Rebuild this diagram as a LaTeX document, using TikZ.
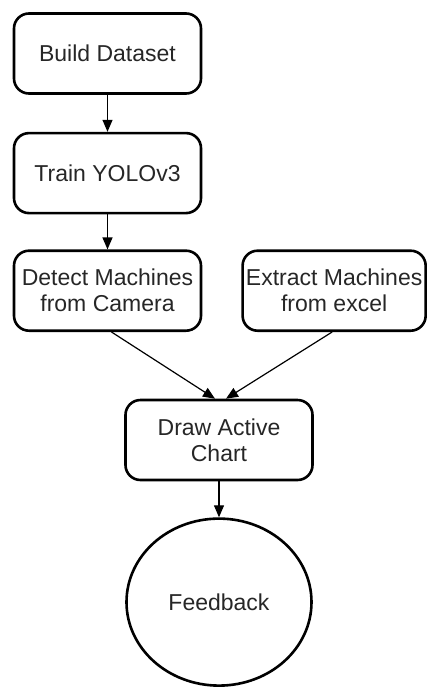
\documentclass[tikz,border=0pt]{standalone}
\usepackage{fontspec}
\setmainfont{Liberation Sans}
\usetikzlibrary{arrows.meta, positioning, shapes.geometric}

\begin{document}
\begin{tikzpicture}[x=1pt, y=1pt, >={Triangle[width=10pt, length=12pt]},
  stage/.style={draw, line width=2.6pt, rounded corners=15pt,
                minimum width=187pt, minimum height=80pt, align=center,
                font=\fontsize{23}{26}\selectfont, text=black!85},
  flow/.style={->, line width=1.2pt}]
  \useasboundingbox (0,0) rectangle (429,-689);

  \node[stage] (build) at (107.5,-53.5) {Build Dataset};
  \node[stage, below=37pt of build] (train) {Train YOLOv3};
  \node[stage, below=35pt of train] (detect) {Detect Machines\\from Camera};
  \node[stage, minimum width=183pt, right=39pt of detect] (extract)
    {Extract Machines\\from excel};

  \node[stage] (chart) at (219,-440) {Draw Active\\Chart};
  \node[draw, ellipse, line width=2.6pt, minimum width=185pt,
        minimum height=167pt, font=\fontsize{23}{26}\selectfont,
        text=black!85, below=36pt of chart] (feedback) {Feedback};

  \draw[flow] (build) -- (train);
  \draw[flow] (train) -- (detect);
  \draw[flow] ([xshift=4pt]detect.south) -- ([xshift=-4pt]chart.north);
  \draw[flow] ([xshift=-2pt]extract.south) -- ([xshift=7pt]chart.north);
  \draw[flow] (chart) -- (feedback);
\end{tikzpicture}
\end{document}
